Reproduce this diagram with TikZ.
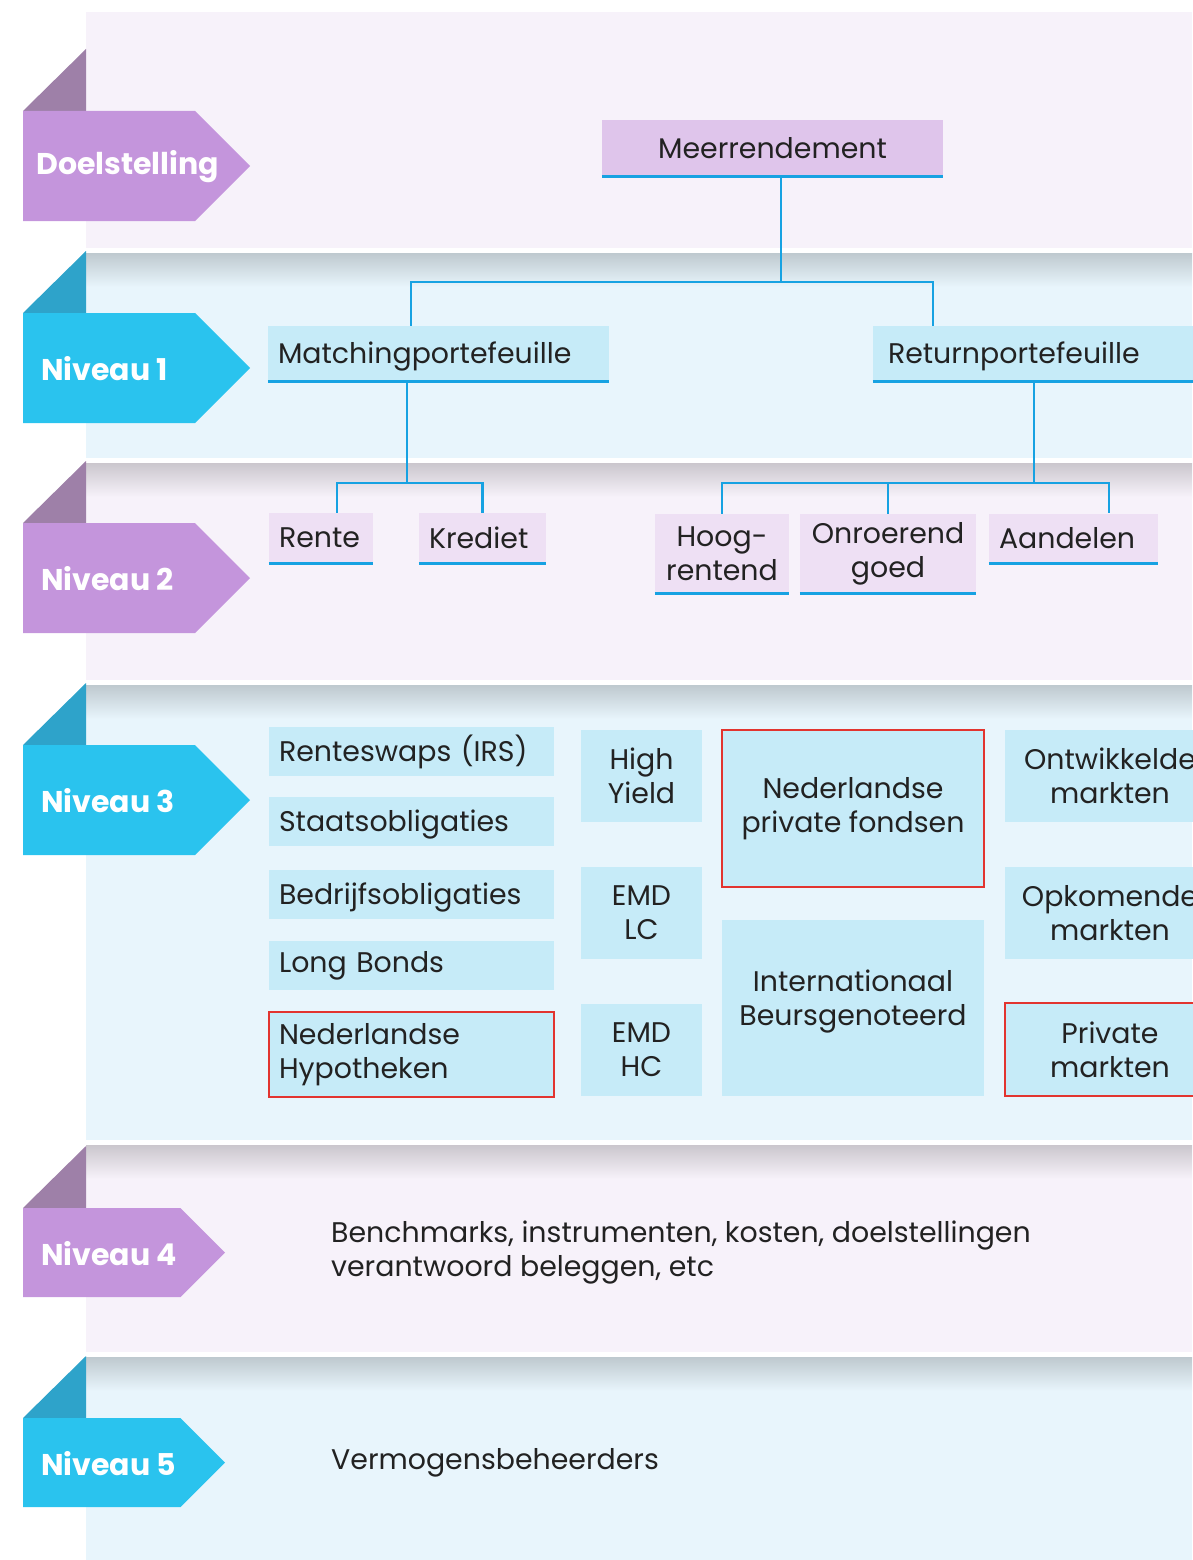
\documentclass[tikz,border=0pt]{standalone}
\usepackage{fontspec}
\setmainfont{Poppins}
\usepackage{tikz}

\definecolor{band-paars}{HTML}{F7F2FA}
\definecolor{band-blauw}{HTML}{E8F5FC}
\definecolor{vlag-paars}{HTML}{C495DC}
\definecolor{vlag-blauw}{HTML}{2AC3EE}
\definecolor{fold-paars}{HTML}{9E80A8}
\definecolor{fold-blauw}{HTML}{2EA3CA}
\definecolor{doelvak}{HTML}{DFC5EB}
\definecolor{paarsvak}{HTML}{EEE0F4}
\definecolor{blauwvak}{HTML}{C6EBF8}
\definecolor{lijnblauw}{HTML}{17A2E2}
\definecolor{kader}{HTML}{E2342F}
\definecolor{tekst}{HTML}{222222}

\tikzset{
    x=1pt, y=-1pt,
    every node/.style={font=\fontsize{28.4}{34}\selectfont, text=tekst},
    vlagtekst/.style={anchor=west, inner xsep=0pt, text=white, font=\fontsize{30}{34}\selectfont\bfseries},
    vak/.style={fill=#1, inner xsep=10pt, inner ysep=0pt},
    laag/.style={text height=24pt, text depth=4pt},
    lijn/.style={draw=lijnblauw, line width=2.5pt},
    onderlijn/.style={draw=lijnblauw, line width=3pt},
    rood/.style={draw=kader, line width=2.5pt}
}

\begin{document}
\begin{tikzpicture}
    \useasboundingbox (0,0) rectangle (1192,1560);
    % banden
    \foreach \kl/\yt/\yb in {paars/12/248, blauw/253/458, paars/463/680,
                             blauw/685/1140, paars/1145/1352, blauw/1357/1560}
        \fill[band-\kl] (86,\yt) rectangle (1192,\yb);
    \foreach \kl/\yt in {blauw/253, paars/463, blauw/685, paars/1145, blauw/1357}
        \shade[top color=black!18!band-\kl, bottom color=band-\kl]
            (86,\yt) rectangle (1192,\yt+34);

    % vlaggen
    \foreach \bt/\bb/\tip/\kl/\bx/\lab in {111/221/250/paars/36/Doelstelling,
                                           313/423/250/blauw/41/Niveau 1,
                                           523/633/250/paars/41/Niveau 2,
                                           745/855/250/blauw/41/Niveau 3,
                                           1208/1297/225/paars/41/Niveau 4,
                                           1418/1507/225/blauw/41/Niveau 5}
    {
        \fill[fold-\kl] (23,\bt) -- (86,\bt-62) -- (86,\bt) -- cycle;
        \fill[vlag-\kl] (23,\bt) -- ({\tip-(\bb-\bt)/2},\bt) -- (\tip,{(\bb+\bt)/2})
            -- ({\tip-(\bb-\bt)/2},\bb) -- (23,\bb) -- cycle;
        \node[vlagtekst] (vlag\bt) at (\bx,{(\bb+\bt)/2+1}) {\lab};
    }

    % doelstelling en niveau 1
    \node[vak=doelvak, minimum width=341, minimum height=56] (meer) at (772.5,148) {Meerrendement};
    \node[vak=blauwvak, laag, text width=321, minimum height=55, align=left] (match) at (438.5,353.5) {Matchingportefeuille};
    \node[vak=blauwvak, laag, text width=320, minimum height=55, align=left, inner xsep=15pt] (ret) at (1048,353.5) {Returnportefeuille};

    % niveau 2
    \node[vak=paarsvak, text width=84, minimum height=50, align=left] (rente) at (321,538) {Rente};
    \node[vak=paarsvak, text width=107, minimum height=50, align=left] (krediet) at (482.5,538) {Krediet};
    \node[vak=paarsvak, minimum width=134, minimum height=79, align=center] (hoog) at (722,553.5) {Hoog-\\rentend};
    \node[vak=paarsvak, minimum width=176, minimum height=79, align=center] (onroerend) at (888,553.5) {Onroerend\\goed};
    \node[vak=paarsvak, text width=149, minimum height=50, align=left] (aandelen) at (1073.5,538.5) {Aandelen};

    \foreach \n in {meer, match, ret, rente, krediet, hoog, onroerend, aandelen}
        \draw[onderlijn] (\n.south west) -- (\n.south east);

    % boom
    \coordinate (knoop1) at (781,282);
    \draw[lijn] (781,0 |- meer.south) -- (knoop1);
    \draw[lijn] (411,0 |- match.north) |- (knoop1) -| (933,0 |- ret.north);
    \coordinate (knoop2) at (407,483);
    \draw[lijn] (407,0 |- match.south) -- (knoop2);
    \draw[lijn] (337,0 |- rente.north) |- (knoop2) -| (krediet.north);
    \coordinate (knoop3) at (1034,483);
    \draw[lijn] (1034,0 |- ret.south) -- (knoop3);
    \draw[lijn] (hoog.north) |- (knoop3) -| (1109,0 |- aandelen.north);
    \draw[lijn] (onroerend.north) -- (onroerend.north |- knoop3);

    % niveau 3
    \node[vak=blauwvak, text width=265, minimum height=49, align=left] (irs) at (411.5,751.5) {Renteswaps (IRS)};
    \node[vak=blauwvak, laag, text width=265, minimum height=49, align=left] (staat) at (411.5,821.5) {Staatsobligaties};
    \node[vak=blauwvak, laag, text width=265, minimum height=49, align=left] (bedrijf) at (411.5,894.5) {Bedrijfsobligaties};
    \node[vak=blauwvak, text width=265, minimum height=49, align=left] (long) at (411.5,965.5) {Long Bonds};
    \node[vak=blauwvak, rood, text width=265, minimum height=85, align=left] (hypo) at (411.5,1054.5) {Nederlandse\\Hypotheken};
    \node[vak=blauwvak, minimum width=121, minimum height=92, align=center] (hy) at (641.5,776) {High\\Yield};
    \node[vak=blauwvak, minimum width=121, minimum height=92, align=center] (emdlc) at (641.5,913) {EMD\\LC};
    \node[vak=blauwvak, minimum width=121, minimum height=92, align=center] (emdhc) at (641.5,1050) {EMD\\HC};
    \node[vak=blauwvak, rood, minimum width=262, minimum height=157, align=center] (nlpriv) at (853,808.5) {Nederlandse\\private fondsen};
    \node[vak=blauwvak, minimum width=262, minimum height=176, align=center, text depth=20pt] (intl) at (853,1008) {Internationaal\\Beursgenoteerd};
    \node[vak=blauwvak, minimum width=210, minimum height=92, align=center] (ontw) at (1110,776) {Ontwikkelde\\markten};
    \node[vak=blauwvak, minimum width=210, minimum height=92, align=center] (opk) at (1110,913) {Opkomende\\markten};
    \node[vak=blauwvak, rood, minimum width=210, minimum height=93, align=center] (privm) at (1110,1049.5) {Private\\markten};

    % niveau 4 en 5
    \node[anchor=west, align=left, inner xsep=0pt] (bench) at (331,1253) {Benchmarks, instrumenten, kosten, doelstellingen\\verantwoord beleggen, etc};
    \node[anchor=west, inner xsep=0pt] (beheer) at (331,1463) {Vermogensbeheerders};
\end{tikzpicture}
\end{document}
